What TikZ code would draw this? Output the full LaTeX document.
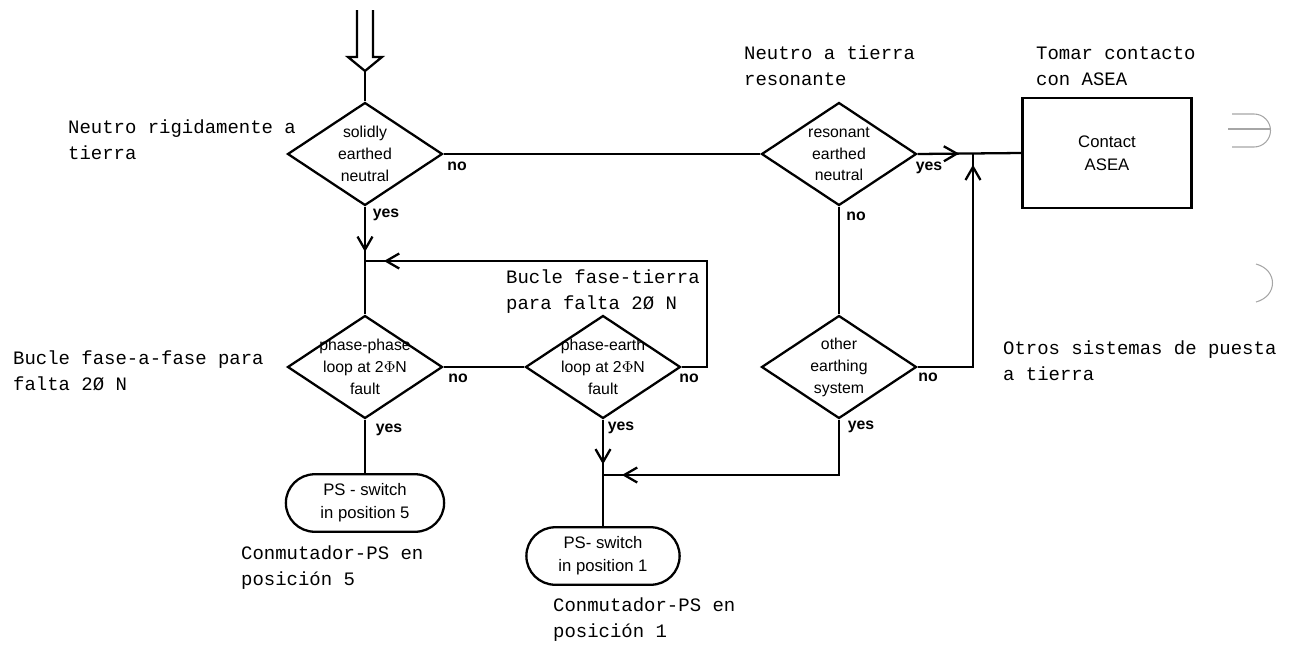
\documentclass[tikz,border=0pt]{standalone}
\usepackage{fontspec}
\setmainfont{Liberation Sans}
\newfontfamily\labfont{Liberation Mono}
\usetikzlibrary{shapes.geometric,shapes.misc,arrows.meta,decorations.markings}

\tikzset{
  arr at/.style={postaction={decorate},
    decoration={markings,mark=at position #1 with {\arrow{Straight Barb[length=2.6mm,width=3mm,line width=1.3pt]}}}}
}

\begin{document}
\begin{tikzpicture}[x=0.02cm,y=-0.02cm,
  line width=1.3pt,
  dec/.style={draw,diamond,minimum width=3.1cm,minimum height=2.06cm,inner sep=0pt},
  dtext/.style={font=\fontsize{9}{12.5}\selectfont,align=center,inner sep=0pt},
  term/.style={draw,rounded rectangle,minimum width=3.4cm,minimum height=1.15cm,align=center,
    font=\fontsize{9.5}{13}\selectfont},
  box/.style={draw,rectangle,minimum width=3.38cm,minimum height=2.2cm,align=center,
    font=\fontsize{9.5}{13}\selectfont},
  yn/.style={font=\fontsize{9}{10}\selectfont\bfseries,inner sep=1pt},
  lab/.style={font=\labfont\fontsize{10.8}{14.7}\selectfont,align=left,anchor=west,inner sep=0pt},
  scan/.style={draw=black!35,line width=0.6pt}]

\useasboundingbox (0,0) rectangle (1289,646);

% entry arrow
\coordinate (in) at (365,71);
\draw (357,10) -- (357,57) -- (348,57) -- (in) -- (382,57) -- (373,57) -- (373,10);

% decisions
\node[dec,label={[dtext]center:{solidly\\earthed\\neutral}}] (d1) at (365,154) {};
\node[dec,label={[dtext]center:{resonant\\earthed\\neutral}}] (d2) at (839,154) {};
\node[dec,label={[dtext]center:{phase-phase\\loop at 2$\Phi$N\\fault}}] (d3) at (365,367) {};
\node[dec,label={[dtext]center:{phase-earth\\loop at 2$\Phi$N\\fault}}] (d4) at (603,367) {};
\node[dec,label={[dtext]center:{other\\earthing\\system}}] (d5) at (839,367) {};

\node[box] (asea) at (1107,153) {Contact\\ASEA};
\node[term] (c5) at (365,503) {PS - switch\\in position 5};
\node[term,minimum width=3.3cm] (c1) at (603,556) {PS- switch\\in position 1};

\coordinate (jl) at (365,261);
\coordinate (jt) at (707,261);
\coordinate (jr) at (973,154);
\coordinate (jm) at (603,475);

\draw (in) -- (d1.north);
\draw[arr at=0.42] (d1.south) -- (d3.north);
\draw (d1.east) -- (d2.west);
\draw[arr at=0.4] (d2.east) -- (asea.west);
\draw (d2.south) -- (d5.north);
\draw[arr at=0.96] (d5.east) -| (jr);
\draw (d3.east) -- (d4.west);
\draw[arr at=0.96] (d4.east) -| (jt) -- (jl);
\draw (d3.south) -- (c5.north);
\draw[arr at=0.42] (d4.south) -- (c1.north);
\draw[arr at=0.935] (d5.south) |- (jm);

% yes / no
\node[yn] (n1) at (457,166) {no};
\node[yn] (y1) at (386,215) {yes};
\node[yn] (y2) at (929,168) {yes};
\node[yn] (n2) at (856,216) {no};
\node[yn] (n3) at (458,378) {no};
\node[yn] (y3) at (389,430) {yes};
\node[yn] (n4) at (689,378) {no};
\node[yn] (y4) at (621,428) {yes};
\node[yn] (n5) at (928,377) {no};
\node[yn] (y5) at (861,427) {yes};

% spanish notes
\node[lab] (t1) at (67,140) {Neutro rigidamente a\\tierra};
\node[lab] (t2) at (743,66) {Neutro a tierra\\resonante};
\node[lab] (t3) at (1035,66) {Tomar contacto\\con ASEA};
\node[lab] (t4) at (12,371) {Bucle fase-a-fase para\\falta 2Ø N};
\node[lab] (t5) at (505,292) {Bucle fase-tierra\\para falta 2Ø N};
\node[lab] (t6) at (240,568) {Conmutador-PS en\\posición 5};
\node[lab] (t7) at (552,620) {Conmutador-PS en\\posición 1};
\node[lab] (t8) at (1002,361) {Otros sistemas de puesta\\a tierra};

% marks at the page edge
\draw[scan] (1232,114) -- (1254,114) arc (-90:90:16.5) -- (1232,147);
\draw[scan] (1228,129) -- (1270,129);
\draw[scan] (1256,264) .. controls (1278,270) and (1278,296) .. (1256,302);
\end{tikzpicture}
\end{document}
